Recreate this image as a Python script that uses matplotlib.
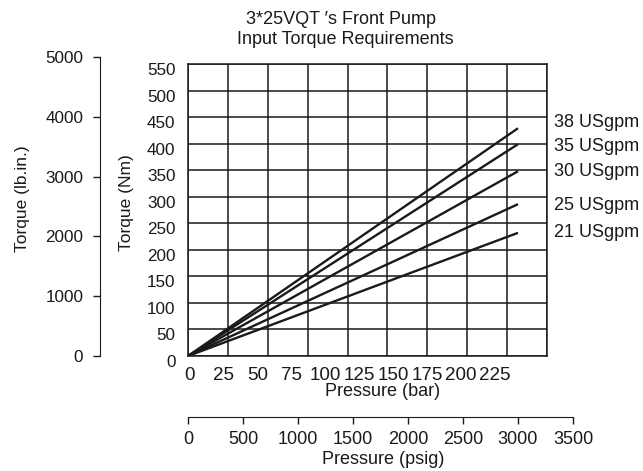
import numpy as np
import matplotlib
matplotlib.use("Agg")
import matplotlib.pyplot as plt
import matplotlib.transforms as mtransforms

plt.rcParams['font.family'] = ['Liberation Sans', 'DejaVu Sans']
narrow = ['Liberation Sans Narrow', 'Liberation Sans', 'DejaVu Sans']

# data
flows_usgpm = [21, 25, 30, 35, 38]
end_torque_nm = [232, 286, 348, 399, 429]
end_pressure_psig = 3000
label_torque_nm = [232, 283, 348, 394, 439]

bar_ticks = [0, 25, 50, 75, 100, 125, 150, 175, 200, 225]
nm_ticks = list(range(0, 551, 50))
lbin_ticks = [0, 1000, 2000, 3000, 4000, 5000]
psig_ticks = [0, 500, 1000, 1500, 2000, 2500, 3000, 3500]

PSI_PER_BAR = 14.5038
W, H = 643, 471
ink = '#1a1a1a'


def px_axes(fig, x0, y0, x1, y1):
    return fig.add_axes([x0 / W, 1 - y1 / H, max(x1 - x0, 0.5) / W, max(y1 - y0, 0.5) / H])


fig = plt.figure(figsize=(W / 100, H / 100), dpi=100)

# main grid axes (bar vs Nm)
ax = px_axes(fig, 188, 64, 547, 356)
ax.set_xlim(0, 225)
ax.set_ylim(0, 550)
ax.set_xticks(np.arange(0, 226, 25), minor=True)
# the printed bar labels sit slightly compressed relative to the grid
ax.set_xticks([b * 0.85 + 1.2 for b in bar_ticks])
ax.set_xticklabels([str(b) for b in bar_ticks], fontsize=13.5, color=ink, family=narrow)
ax.set_yticks(nm_ticks)
ax.set_yticklabels([str(v) for v in nm_ticks], fontsize=12.3, color=ink)
ax.tick_params(which='both', length=0)
ax.tick_params(axis='x', pad=8)
ax.tick_params(axis='y', pad=9)
ax.grid(which='minor', axis='x', color=ink, lw=1.1)
ax.grid(which='major', axis='y', color=ink, lw=1.1)
for s in ax.spines.values():
    s.set_color(ink)
    s.set_linewidth(1.1)
shift = mtransforms.ScaledTranslation(0, -0.05, fig.dpi_scale_trans)
for lab in ax.get_yticklabels():
    lab.set_transform(lab.get_transform() + shift)

end_bar = end_pressure_psig / PSI_PER_BAR
for q, t, ly in zip(flows_usgpm, end_torque_nm, label_torque_nm):
    ax.plot([0, end_bar], [0, t], color=ink, lw=1.7, solid_capstyle='butt', zorder=3)
    ax.text(229.5, ly, f'{q} USgpm', fontsize=13, color=ink, va='center',
            ha='left', clip_on=False)

# lb.in axis on the far left
axl = px_axes(fig, 100, 57, 100, 356)
axl.set_ylim(0, 5000)
axl.set_yticks(lbin_ticks)
axl.set_yticklabels([str(v) for v in lbin_ticks], fontsize=12.3, color=ink)
axl.tick_params(axis='y', direction='out', length=5, width=1, color=ink, pad=7)
axl.xaxis.set_visible(False)
for k in ['top', 'right', 'bottom']:
    axl.spines[k].set_visible(False)
axl.spines['left'].set_color(ink)
axl.patch.set_visible(False)

# psig axis below
axp = px_axes(fig, 188, 417, 573, 417)
axp.set_xlim(0, 3500)
axp.set_xticks(psig_ticks)
axp.set_xticklabels([str(v) for v in psig_ticks], fontsize=13, color=ink)
axp.tick_params(axis='x', direction='out', length=5, width=1, color=ink, pad=5)
axp.yaxis.set_visible(False)
for k in ['top', 'right', 'left']:
    axp.spines[k].set_visible(False)
axp.spines['bottom'].set_color(ink)
axp.patch.set_visible(False)

# labels and title
fig.text(383 / W, 1 - 391 / H, 'Pressure (bar)', fontsize=13, color=ink, ha='center', va='center')
fig.text(383 / W, 1 - 459 / H, 'Pressure (psig)', fontsize=13, color=ink, ha='center', va='center')
fig.text(23 / W, 1 - 199 / H, 'Torque (lb.in.)', fontsize=12.5, color=ink, rotation=90,
         ha='center', va='center')
fig.text(127 / W, 1 - 203 / H, 'Torque (Nm)', fontsize=12.5, color=ink, rotation=90,
         ha='center', va='center')
fig.text(341 / W, 1 - 20 / H, '3*25VQT \u2032s Front Pump', fontsize=13, color=ink,
         ha='center', va='center')
fig.text(345 / W, 1 - 40 / H, 'Input Torque Requirements', fontsize=13, color=ink,
         ha='center', va='center')

fig.savefig('out.png', dpi=100)
